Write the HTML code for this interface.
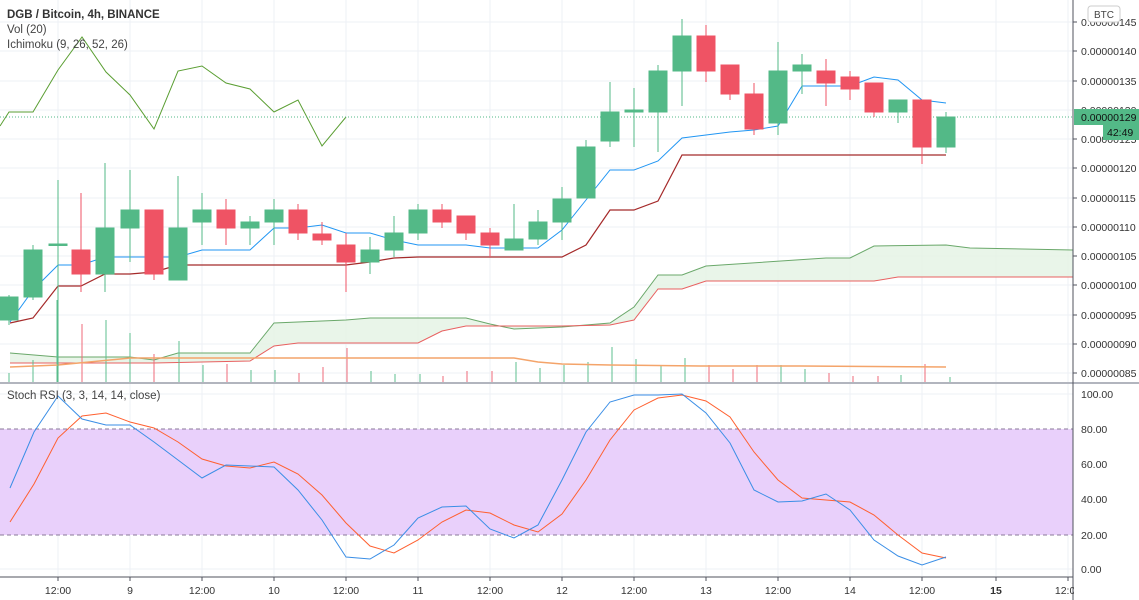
<!DOCTYPE html>
<html><head><meta charset="utf-8"><style>
html,body{margin:0;padding:0;background:#fff;}
svg{display:block;font-family:"Liberation Sans",sans-serif;}
</style></head><body>
<svg width="1139" height="600" viewBox="0 0 1139 600" xmlns="http://www.w3.org/2000/svg">
<rect width="1139" height="600" fill="#fff"/>
<!-- grid -->
<g stroke="#edf0f5" stroke-width="1">
<line x1="58" y1="0" x2="58" y2="576"/><line x1="130" y1="0" x2="130" y2="576"/><line x1="202" y1="0" x2="202" y2="576"/><line x1="274" y1="0" x2="274" y2="576"/><line x1="346" y1="0" x2="346" y2="576"/><line x1="418" y1="0" x2="418" y2="576"/><line x1="490" y1="0" x2="490" y2="576"/><line x1="562" y1="0" x2="562" y2="576"/><line x1="634" y1="0" x2="634" y2="576"/><line x1="706" y1="0" x2="706" y2="576"/><line x1="778" y1="0" x2="778" y2="576"/><line x1="850" y1="0" x2="850" y2="576"/><line x1="922" y1="0" x2="922" y2="576"/><line x1="996" y1="0" x2="996" y2="576"/><line x1="1068" y1="0" x2="1068" y2="576"/>
<line x1="0" y1="22" x2="1073" y2="22"/><line x1="0" y1="51" x2="1073" y2="51"/><line x1="0" y1="81" x2="1073" y2="81"/><line x1="0" y1="110" x2="1073" y2="110"/><line x1="0" y1="139" x2="1073" y2="139"/><line x1="0" y1="168" x2="1073" y2="168"/><line x1="0" y1="198" x2="1073" y2="198"/><line x1="0" y1="227" x2="1073" y2="227"/><line x1="0" y1="256" x2="1073" y2="256"/><line x1="0" y1="285" x2="1073" y2="285"/><line x1="0" y1="315" x2="1073" y2="315"/><line x1="0" y1="344" x2="1073" y2="344"/><line x1="0" y1="373" x2="1073" y2="373"/>
<line x1="0" y1="394" x2="1073" y2="394"/><line x1="0" y1="464" x2="1073" y2="464"/><line x1="0" y1="499" x2="1073" y2="499"/><line x1="0" y1="569" x2="1073" y2="569"/>
</g>
<!-- cloud fill -->
<polygon fill="#e3f3e3" opacity="0.8" points="10,353 58,357 130,357 154,360 178,353 250,353 274,323 346,320 370,318 466,318 490,324 514,329 562,327 610,323 634,307 658,275 682,275 706,266 826,258 850,258 874,246 946,245 970,248 1073,250 1073,277 898,277 874,281 706,281 682,289 658,289 634,320 610,325 562,326 466,326 442,331 418,343 298,343 274,346 250,361 154,363 10,363"/>
<polyline fill="none" stroke="#6aa86a" stroke-width="1" points="10,353 58,357 130,357 154,360 178,353 250,353 274,323 346,320 370,318 466,318 490,324 514,329 562,327 610,323 634,307 658,275 682,275 706,266 826,258 850,258 874,246 946,245 970,248 1073,250"/>
<polyline fill="none" stroke="#e86060" stroke-width="1" points="10,363 130,363 154,363 250,361 274,346 298,343 418,343 442,331 466,326 562,326 610,325 634,320 658,289 682,289 706,281 874,281 898,277 1073,277"/>
<!-- volume -->
<g stroke-width="1">
<line x1="9" y1="373" x2="9" y2="382" stroke="#5cbf8f"/><line x1="33" y1="360" x2="33" y2="382" stroke="#5cbf8f"/><line x1="57" y1="300" x2="57" y2="382" stroke="#5cbf8f"/><line x1="82" y1="324" x2="82" y2="382" stroke="#ef6a78"/><line x1="106" y1="320" x2="106" y2="382" stroke="#5cbf8f"/><line x1="130" y1="333" x2="130" y2="382" stroke="#5cbf8f"/><line x1="154" y1="354" x2="154" y2="382" stroke="#ef6a78"/><line x1="179" y1="341" x2="179" y2="382" stroke="#5cbf8f"/><line x1="203" y1="365" x2="203" y2="382" stroke="#5cbf8f"/><line x1="227" y1="364" x2="227" y2="382" stroke="#ef6a78"/><line x1="251" y1="370" x2="251" y2="382" stroke="#5cbf8f"/><line x1="275" y1="370" x2="275" y2="382" stroke="#5cbf8f"/><line x1="299" y1="373" x2="299" y2="382" stroke="#ef6a78"/><line x1="323" y1="367" x2="323" y2="382" stroke="#ef6a78"/><line x1="347" y1="348" x2="347" y2="382" stroke="#ef6a78"/><line x1="371" y1="371" x2="371" y2="382" stroke="#5cbf8f"/><line x1="395" y1="374" x2="395" y2="382" stroke="#5cbf8f"/><line x1="420" y1="374" x2="420" y2="382" stroke="#5cbf8f"/><line x1="443" y1="376" x2="443" y2="382" stroke="#ef6a78"/><line x1="467" y1="371" x2="467" y2="382" stroke="#ef6a78"/><line x1="492" y1="371" x2="492" y2="382" stroke="#ef6a78"/><line x1="516" y1="362" x2="516" y2="382" stroke="#5cbf8f"/><line x1="540" y1="368" x2="540" y2="382" stroke="#5cbf8f"/><line x1="564" y1="365" x2="564" y2="382" stroke="#5cbf8f"/><line x1="588" y1="362" x2="588" y2="382" stroke="#5cbf8f"/><line x1="612" y1="347" x2="612" y2="382" stroke="#5cbf8f"/><line x1="636" y1="359" x2="636" y2="382" stroke="#5cbf8f"/><line x1="661" y1="365" x2="661" y2="382" stroke="#5cbf8f"/><line x1="685" y1="358" x2="685" y2="382" stroke="#5cbf8f"/><line x1="709" y1="365" x2="709" y2="382" stroke="#ef6a78"/><line x1="733" y1="369" x2="733" y2="382" stroke="#ef6a78"/><line x1="757" y1="365" x2="757" y2="382" stroke="#ef6a78"/><line x1="781" y1="365" x2="781" y2="382" stroke="#5cbf8f"/><line x1="805" y1="369" x2="805" y2="382" stroke="#5cbf8f"/><line x1="829" y1="373" x2="829" y2="382" stroke="#ef6a78"/><line x1="853" y1="376" x2="853" y2="382" stroke="#ef6a78"/><line x1="878" y1="376" x2="878" y2="382" stroke="#ef6a78"/><line x1="901" y1="375" x2="901" y2="382" stroke="#5cbf8f"/><line x1="925" y1="364" x2="925" y2="382" stroke="#ef6a78"/><line x1="950" y1="377" x2="950" y2="382" stroke="#5cbf8f"/>
</g>
<polyline fill="none" stroke="#f4a46a" stroke-width="1.5" points="10,367 58,365 130,358 154,358 178,358 250,358 514,358 538,362 562,364 610,365 700,366 800,366 946,367"/>
<!-- chikou -->
<polyline fill="none" stroke="#5a9e32" stroke-width="1" points="0,126 9,112 33,112 58,70 82,37 106,72 130,95 154,129 178,71 202,66 226,83 250,89 274,112 298,100 322,146 346,117"/>
<!-- kijun & tenkan -->
<polyline fill="none" stroke="#a52a2a" stroke-width="1.2" points="10,323 33,318 58,286 81,286 105,274 130,274 154,272 178,265 346,265 370,262 394,258 418,257 562,257 586,245 610,210 634,210 658,201 682,155 946,155"/>
<polyline fill="none" stroke="#2196f3" stroke-width="1" points="10,322 33,290 58,265 81,265 105,257 178,257 202,250 250,250 274,228 298,228 322,225 346,233 370,233 394,240 418,245 466,245 490,248 538,248 562,230 586,200 610,170 634,170 658,161 682,138 706,135 730,132 754,130 778,126 802,86 850,86 874,77 898,80 922,100 946,103"/>
<!-- dotted last price -->
<line x1="0" y1="117" x2="1073" y2="117" stroke="#53b987" stroke-width="1" stroke-dasharray="1,2"/>
<!-- candles -->
<g>
<g stroke="#53b987" fill="#53b987">
<line x1="9" y1="295" x2="9" y2="325"/><rect x="0" y="297" width="18" height="23"/>
<line x1="33" y1="245" x2="33" y2="300"/><rect x="24" y="250" width="18" height="47"/>
<line x1="58" y1="180" x2="58" y2="382"/><rect x="49" y="244" width="18" height="1.5"/>
<line x1="105" y1="163" x2="105" y2="292"/><rect x="96" y="228" width="18" height="46"/>
<line x1="130" y1="170" x2="130" y2="262"/><rect x="121" y="210" width="18" height="18"/>
<line x1="178" y1="176" x2="178" y2="280"/><rect x="169" y="228" width="18" height="52"/>
<line x1="202" y1="193" x2="202" y2="245"/><rect x="193" y="210" width="18" height="12"/>
<line x1="250" y1="216" x2="250" y2="245"/><rect x="241" y="222" width="18" height="6"/>
<line x1="274" y1="199" x2="274" y2="245"/><rect x="265" y="210" width="18" height="12"/>
<line x1="370" y1="237" x2="370" y2="274"/><rect x="361" y="250" width="18" height="12"/>
<line x1="394" y1="216" x2="394" y2="257"/><rect x="385" y="233" width="18" height="17"/>
<line x1="418" y1="204" x2="418" y2="240"/><rect x="409" y="210" width="18" height="23"/>
<line x1="514" y1="204" x2="514" y2="250"/><rect x="505" y="239" width="18" height="11"/>
<line x1="538" y1="210" x2="538" y2="245"/><rect x="529" y="222" width="18" height="17"/>
<line x1="562" y1="187" x2="562" y2="240"/><rect x="553" y="199" width="18" height="23"/>
<line x1="586" y1="140" x2="586" y2="198"/><rect x="577" y="147" width="18" height="51"/>
<line x1="610" y1="82" x2="610" y2="147"/><rect x="601" y="112" width="18" height="29"/>
<line x1="634" y1="88" x2="634" y2="147"/><rect x="625" y="110" width="18" height="2"/>
<line x1="658" y1="65" x2="658" y2="152"/><rect x="649" y="71" width="18" height="41"/>
<line x1="682" y1="19" x2="682" y2="106"/><rect x="673" y="36" width="18" height="35"/>
<line x1="778" y1="42" x2="778" y2="135"/><rect x="769" y="71" width="18" height="52"/>
<line x1="802" y1="54" x2="802" y2="94"/><rect x="793" y="65" width="18" height="6"/>
<line x1="898" y1="100" x2="898" y2="123"/><rect x="889" y="100" width="18" height="12"/>
<line x1="946" y1="112" x2="946" y2="153"/><rect x="937" y="117" width="18" height="30"/>
</g>
<g stroke="#ef5364" fill="#ef5364">
<line x1="81" y1="193" x2="81" y2="292"/><rect x="72" y="250" width="18" height="24"/>
<line x1="154" y1="210" x2="154" y2="280"/><rect x="145" y="210" width="18" height="64"/>
<line x1="226" y1="199" x2="226" y2="245"/><rect x="217" y="210" width="18" height="18"/>
<line x1="298" y1="204" x2="298" y2="240"/><rect x="289" y="210" width="18" height="23"/>
<line x1="322" y1="222" x2="322" y2="245"/><rect x="313" y="234" width="18" height="6"/>
<line x1="346" y1="233" x2="346" y2="292"/><rect x="337" y="245" width="18" height="17"/>
<line x1="442" y1="204" x2="442" y2="228"/><rect x="433" y="210" width="18" height="12"/>
<line x1="466" y1="216" x2="466" y2="240"/><rect x="457" y="216" width="18" height="17"/>
<line x1="490" y1="228" x2="490" y2="257"/><rect x="481" y="233" width="18" height="12"/>
<line x1="706" y1="25" x2="706" y2="82"/><rect x="697" y="36" width="18" height="35"/>
<line x1="730" y1="65" x2="730" y2="100"/><rect x="721" y="65" width="18" height="29"/>
<line x1="754" y1="83" x2="754" y2="135"/><rect x="745" y="94" width="18" height="35"/>
<line x1="826" y1="59" x2="826" y2="106"/><rect x="817" y="71" width="18" height="12"/>
<line x1="850" y1="71" x2="850" y2="100"/><rect x="841" y="77" width="18" height="12"/>
<line x1="874" y1="83" x2="874" y2="117"/><rect x="865" y="83" width="18" height="29"/>
<line x1="922" y1="100" x2="922" y2="164"/><rect x="913" y="100" width="18" height="47"/>
</g>
</g>
<!-- pane divider -->
<line x1="0" y1="383" x2="1139" y2="383" stroke="#b2b5be" stroke-width="2"/>
<!-- stoch band -->
<rect x="0" y="429" width="1073" height="106" fill="#e9d0fb"/>
<line x1="0" y1="429" x2="1073" y2="429" stroke="#8a7a9a" stroke-width="1" stroke-dasharray="4,3"/>
<line x1="0" y1="535" x2="1073" y2="535" stroke="#8a7a9a" stroke-width="1" stroke-dasharray="4,3"/>
<polyline fill="none" stroke="#ff6030" stroke-width="1" points="10,522 34,484 58,438 82,416 106,413 130,422 154,428 178,442 202,459 226,466 250,468 274,462 298,474 322,495 346,523 370,546 394,553 418,540 442,522 466,510 490,513 514,525 538,532 562,514 586,480 610,440 634,410 658,398 682,395 706,401 730,417 754,452 778,480 802,498 826,500 850,502 874,515 898,535 922,553 946,558"/>
<polyline fill="none" stroke="#3a8ee6" stroke-width="1" points="10,488 34,432 58,396 82,419 106,425 130,425 154,442 178,460 202,478 226,465 250,466 274,467 298,490 322,520 346,557 370,559 394,545 418,518 442,507 466,506 490,529 514,538 538,525 562,480 586,432 610,402 634,395 658,395 682,394 706,413 730,443 754,490 778,502 802,501 826,494 850,510 874,540 898,556 922,565 946,557"/>
<!-- axes -->
<line x1="1073" y1="0" x2="1073" y2="600" stroke="#50535e" stroke-width="1"/>
<line x1="0" y1="577" x2="1073" y2="577" stroke="#50535e" stroke-width="1"/>
<g font-size="10.5" fill="#333">
<text x="1081" y="26">0.00000145</text><text x="1081" y="55">0.00000140</text><text x="1081" y="85">0.00000135</text><text x="1081" y="114">0.00000130</text><text x="1081" y="172">0.00000120</text><text x="1081" y="202">0.00000115</text><text x="1081" y="231">0.00000110</text><text x="1081" y="260">0.00000105</text><text x="1081" y="289">0.00000100</text><text x="1081" y="319">0.00000095</text><text x="1081" y="348">0.00000090</text><text x="1081" y="377">0.00000085</text><text x="1081" y="143">0.00000125</text>
<text x="1081" y="398">100.00</text><text x="1081" y="433">80.00</text><text x="1081" y="468">60.00</text><text x="1081" y="503">40.00</text><text x="1081" y="539">20.00</text><text x="1081" y="573">0.00</text>
</g>
<g stroke="#50535e"><line x1="1073" y1="22" x2="1077" y2="22"/><line x1="1073" y1="51" x2="1077" y2="51"/><line x1="1073" y1="81" x2="1077" y2="81"/><line x1="1073" y1="139" x2="1077" y2="139"/><line x1="1073" y1="168" x2="1077" y2="168"/><line x1="1073" y1="198" x2="1077" y2="198"/><line x1="1073" y1="227" x2="1077" y2="227"/><line x1="1073" y1="256" x2="1077" y2="256"/><line x1="1073" y1="285" x2="1077" y2="285"/><line x1="1073" y1="315" x2="1077" y2="315"/><line x1="1073" y1="344" x2="1077" y2="344"/><line x1="1073" y1="373" x2="1077" y2="373"/></g>
<rect x="1088" y="6" width="32" height="16" rx="3" fill="#fff" stroke="#ccc"/>
<text x="1104" y="18" font-size="10" fill="#444" text-anchor="middle">BTC</text>
<rect x="1074" y="109" width="65" height="16" fill="#53b987"/>
<text x="1081" y="121" font-size="10.5" fill="#111">0.00000129</text>
<rect x="1103" y="125" width="36" height="15" fill="#53b987"/>
<text x="1107" y="136" font-size="10.5" fill="#111">42:49</text>
<g font-size="10.5" fill="#333" text-anchor="middle">
<text x="58" y="594">12:00</text><text x="130" y="594">9</text><text x="202" y="594">12:00</text><text x="274" y="594">10</text><text x="346" y="594">12:00</text><text x="418" y="594">11</text><text x="490" y="594">12:00</text><text x="562" y="594">12</text><text x="634" y="594">12:00</text><text x="706" y="594">13</text><text x="778" y="594">12:00</text><text x="850" y="594">14</text><text x="922" y="594">12:00</text><text x="996" y="594" font-weight="bold">15</text><text x="1068" y="594">12:00</text>
</g>
<rect x="1074" y="578" width="65" height="22" fill="#fff"/>
<g stroke="#50535e"><line x1="58" y1="577" x2="58" y2="581"/><line x1="130" y1="577" x2="130" y2="581"/><line x1="202" y1="577" x2="202" y2="581"/><line x1="274" y1="577" x2="274" y2="581"/><line x1="346" y1="577" x2="346" y2="581"/><line x1="418" y1="577" x2="418" y2="581"/><line x1="490" y1="577" x2="490" y2="581"/><line x1="562" y1="577" x2="562" y2="581"/><line x1="634" y1="577" x2="634" y2="581"/><line x1="706" y1="577" x2="706" y2="581"/><line x1="778" y1="577" x2="778" y2="581"/><line x1="850" y1="577" x2="850" y2="581"/><line x1="922" y1="577" x2="922" y2="581"/><line x1="996" y1="577" x2="996" y2="581"/><line x1="1068" y1="577" x2="1068" y2="581"/></g>
<!-- legends -->
<text x="7" y="18" font-size="11.5" font-weight="bold" fill="#333">DGB / Bitcoin, 4h, BINANCE</text>
<text x="7" y="33" font-size="11.5" fill="#444">Vol (20)</text>
<text x="7" y="48" font-size="11.5" fill="#444">Ichimoku (9, 26, 52, 26)</text>
<text x="7" y="399" font-size="11.5" fill="#444">Stoch RSI (3, 3, 14, 14, close)</text>
</svg>
</body></html>
